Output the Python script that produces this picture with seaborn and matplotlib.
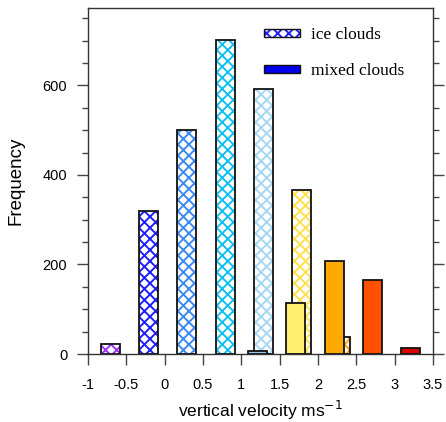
import numpy as np
import pandas as pd
import matplotlib
matplotlib.use("Agg")
import matplotlib.pyplot as plt
from matplotlib.patches import Patch
from matplotlib.ticker import MultipleLocator
import seaborn as sns

# ---- data ----
bin_centers = [-0.75, -0.25, 0.25, 0.75, 1.25, 1.75, 2.25, 2.75, 3.25]
ice_counts = [22, 320, 500, 702, 592, 366, 39, 0, 0]
mixed_counts = [0, 0, 0, 0, 6, 114, 207, 166, 14]
ice_colors = ["#9933FF", "#1F1FFF", "#3C8AF0", "#10C0F0", "#A6D6F2",
              "#FFE050", "#FFA500", "#FF5000", "#DD0000"]
mixed_colors = ["#9933FF", "#1F1FFF", "#3C8AF0", "#10C0F0", "#9EC8E8",
                "#FFF070", "#FFAA00", "#FF5000", "#DD0000"]
x_ticks = [-1, -0.5, 0, 0.5, 1, 1.5, 2, 2.5, 3, 3.5]
x_ticklabels = ["-1", "-0.5", "0", "0.5", "1", "1.5", "2", "2.5", "3", "3.5"]
y_ticks = [0, 200, 400, 600]
series_names = ["ice clouds", "mixed clouds"]

offset = 0.04
ice_x = [c + offset for c in bin_centers]
mixed_x = [c - offset for c in bin_centers]

sns.set_style("ticks")
plt.rcParams["font.family"] = ["Liberation Sans", "DejaVu Sans"]
plt.rcParams["hatch.linewidth"] = 1.4
plt.rcParams["text.color"] = "black"

fig = plt.figure(figsize=(4.46, 4.22), dpi=100)
ax = fig.add_axes([88 / 446, 1 - 354 / 422, (433 - 88) / 446, (354 - 8) / 422])

ice_df = pd.DataFrame({"x": ice_x, "y": ice_counts})
mixed_df = pd.DataFrame({"x": mixed_x, "y": mixed_counts})

# ice clouds: hatch layer
n0 = len(ax.patches)
sns.barplot(data=ice_df, x="x", y="y", native_scale=True, width=0.5,
            errorbar=None, color="white", saturation=1, ax=ax)
for p in ax.patches[n0:]:
    cx = p.get_x() + p.get_width() / 2
    i = int(np.argmin([abs(cx - v) for v in ice_x]))
    p.set_facecolor("white")
    p.set_edgecolor(ice_colors[i])
    p.set_hatch("xxx")
    p.set_linewidth(0)
    p.set_zorder(2)
# ice clouds: outline layer
n1 = len(ax.patches)
sns.barplot(data=ice_df, x="x", y="y", native_scale=True, width=0.5,
            errorbar=None, fill=False, color="black", saturation=1,
            linewidth=1.2, ax=ax)
for p in ax.patches[n1:]:
    p.set_edgecolor("#111111")
    p.set_facecolor("none")
    p.set_linewidth(1.3)
    p.set_zorder(2.1)
    if p.get_height() == 0:
        p.set_visible(False)

# mixed clouds: solid bars on top
n2 = len(ax.patches)
sns.barplot(data=mixed_df, x="x", y="y", native_scale=True, width=0.5,
            errorbar=None, color="white", saturation=1, ax=ax)
for p in ax.patches[n2:]:
    cx = p.get_x() + p.get_width() / 2
    i = int(np.argmin([abs(cx - v) for v in mixed_x]))
    p.set_facecolor(mixed_colors[i])
    p.set_edgecolor("#111111")
    p.set_linewidth(1.3)
    p.set_zorder(3)
    if p.get_height() == 0:
        p.set_visible(False)

ax.set_xlim(-1, 3.5)
ax.set_ylim(0, 773)
ax.set_xticks(x_ticks)
ax.set_xticklabels(x_ticklabels)
ax.set_yticks(y_ticks)
ax.yaxis.set_minor_locator(MultipleLocator(50))
ax.tick_params(axis="x", which="major", direction="out", length=8,
               width=1, color="#444444", labelcolor="black",
               labelsize=10.5, pad=9)
ax.tick_params(axis="y", which="major", direction="out", length=8,
               width=1, color="#444444", labelcolor="black",
               labelsize=10.5, right=True, pad=7)
ax.tick_params(axis="y", which="minor", direction="out", length=4.5,
               width=1, color="#444444", right=True)
for s in ax.spines.values():
    s.set_visible(True)
    s.set_linewidth(1)
    s.set_color("#333333")

ax.set_xlabel("vertical velocity ms$^{-1}$", fontsize=12.5, labelpad=5,
              color="black")
ax.set_ylabel("Frequency", fontsize=13.5, labelpad=13, color="black")

ice_handle = (
    Patch(facecolor="white", edgecolor="#1F1FFF", hatch="xxx", linewidth=0),
    Patch(facecolor="none", edgecolor="#111111", linewidth=1),
)
mixed_handle = Patch(facecolor="#0000EE", edgecolor="#111111", linewidth=1)
leg = ax.legend([ice_handle, mixed_handle], series_names, loc="upper left",
                bbox_to_anchor=(0.51, 0.945), frameon=False,
                borderpad=0, borderaxespad=0,
                prop={"family": ["Liberation Serif"], "size": 12.5},
                handlelength=2.1, handleheight=0.3, labelspacing=1.15,
                handletextpad=0.6)

fig.savefig("out.png", dpi=100)
